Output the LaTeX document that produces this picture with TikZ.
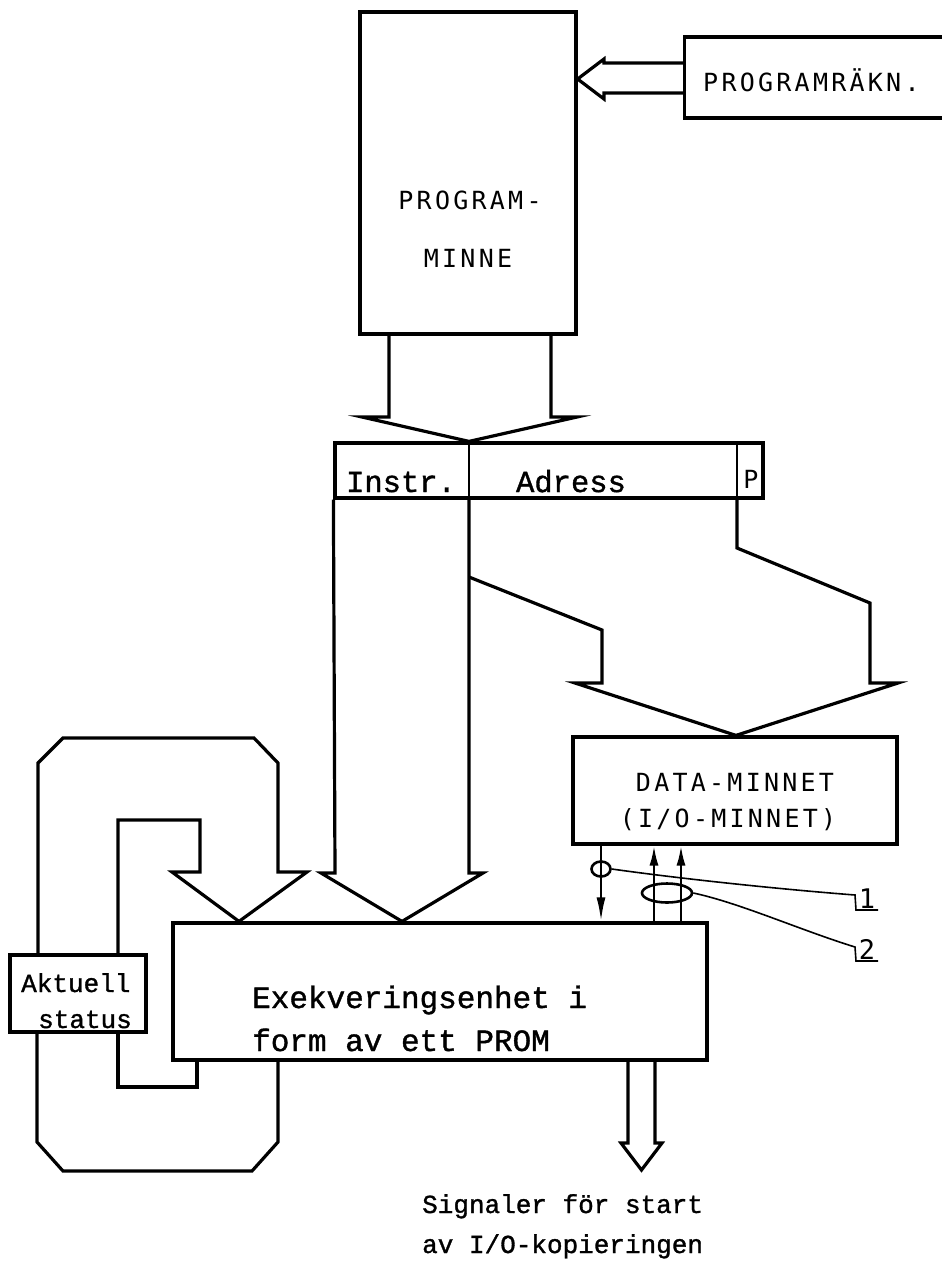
\documentclass[tikz,border=0pt]{standalone}
\usepackage{fontspec}
\setmainfont{Liberation Mono}
\newfontfamily\capsfont[LetterSpace=13]{DejaVu Sans Mono}
\newfontfamily\typefont[FakeBold=1.2]{Liberation Mono}
\usetikzlibrary{calc,arrows.meta,shapes.geometric}
\tikzset{
  box/.style={draw, line width=3.2pt, inner sep=0pt},
  bus/.style={draw, line width=3.2pt},
  sig/.style={line width=2.4pt},
  lead/.style={line width=1.6pt},
  capstxt/.style={font=\capsfont\fontsize{25}{30}\selectfont, inner sep=0pt},
  numtxt/.style={font=\capsfont\fontsize{27}{30}\selectfont, inner sep=0pt},
  typetxt/.style={font=\typefont\fontsize{30.5}{36}\selectfont, inner sep=0pt},
  extxt/.style={font=\typefont\fontsize{31}{36}\selectfont, inner sep=0pt},
  smalltxt/.style={font=\typefont\fontsize{26}{30}\selectfont, inner sep=0pt},
  ell/.style={draw, ellipse, line width=2.6pt, inner sep=0pt}
}
\begin{document}
\begin{tikzpicture}[x=1pt,y=-1pt]
\useasboundingbox (0,0) rectangle (942,1262);

% Program memory
\node[box, minimum width=216pt, minimum height=322pt] (pm) at (468,173) {};
\node[capstxt] (pm1) at (470,200) {PROGRAM-};
\node[capstxt] (pm2) at (468,258) {MINNE};

% Program counter
\node[box, anchor=west, minimum height=81pt, minimum width=280pt] (pr) at (683,77.5) {};
\node[capstxt, anchor=west] (prt) at (703,80) {PROGRAMRÄKN.};

% arrow counter -> memory
\draw[bus] (pr.west |- 0,63) -- (604,63) -- (604,59) -- (pm.east |- 0,79) -- (604,99) -- (604,93) -- (pr.west |- 0,93);

% Instruction register
\node[box, minimum width=428pt, minimum height=55pt] (ir) at (549,470.5) {};
\draw[line width=1.2pt] (469,0 |- ir.north) -- (469,0 |- ir.south);
\draw[line width=1.2pt] (737,0 |- ir.north) -- (737,0 |- ir.south);
\node[typetxt, anchor=base] (tinstr) at (401,492) {Instr.};
\node[typetxt, anchor=base] (tadr) at (571,492) {Adress};
\node[capstxt, anchor=base] (tp) at (751,488) {P};

% memory -> register
\draw[bus] (389,0 |- pm.south) -- (389,417) -- (362,417) -- (469,0 |- ir.north) -- (577,417) -- (551,417) -- (551,0 |- pm.south);

% Execution unit
\node[box, minimum width=534pt, minimum height=137pt] (ex) at (440,991.5) {};
\node[extxt, anchor=base west] (ex1) at (252,1008) {Exekveringsenhet i};
\node[extxt, anchor=base west] (ex2) at (252,1051) {form av ett PROM};

% Instr bus
\draw[bus] (ir.south west) -- (335,873) -- (321,873) -- (402,0 |- ex.north) -- (483,873) -- (469,873) -- (469,0 |- ir.south);

% Data memory
\node[box, minimum width=324pt, minimum height=107pt] (dm) at (735,790.5) {};
\node[capstxt] (dm1) at (735,782) {DATA-MINNET};
\node[capstxt] (dm2) at (728,820) {(I/O-MINNET)};

% Address / P bus
\draw[bus] (469,577) -- (602,630) -- (602,683) -- (575,683) -- (736,0 |- dm.north) -- (898,683) -- (870,683) -- (870,603) -- (737,548) -- (737,0 |- ir.south);

% signal lines
\draw[sig, -{Latex[length=24pt,width=9pt]}] (601,0 |- dm.south) -- (601,0 |- ex.north);
\draw[sig, -{Latex[length=20pt,width=9pt]}] (654,0 |- ex.north) -- (654,0 |- dm.south);
\draw[sig, -{Latex[length=20pt,width=9pt]}] (681,0 |- ex.north) -- (681,0 |- dm.south);

\node[ell, minimum width=19pt, minimum height=15pt] (e1) at (601,869) {};
\node[ell, minimum width=50pt, minimum height=19pt] (e2) at (667,893) {};

\draw[lead] (e1.east) .. controls (690,880) and (790,890) .. (855,895) -- (856,910) -- (878,910);
\node[numtxt, anchor=base] (n1) at (867,908) {1};
\draw[lead] (e2.east) .. controls (740,903) and (800,930) .. (855,947) -- (856,961) -- (878,961);
\node[numtxt, anchor=base] (n2) at (867,959) {2};

% Status box
\node[box, minimum width=136pt, minimum height=77pt] (st) at (78,993.5) {};
\node[smalltxt, anchor=base west] (st1) at (21,992) {Aktuell};
\node[smalltxt, anchor=base west] (st2) at (38,1028) {status};

% feedback loop top
\draw[bus] (38,0 |- st.north) -- (38,763) -- (63,738) -- (254,738) -- (278,763) -- (278,872) -- (307,872) -- (239,0 |- ex.north) -- (172,872) -- (200,872) -- (200,820) -- (118,820) -- (118,0 |- st.north);

% feedback loop bottom
\draw[bus] (197,0 |- ex.south) -- (197,1087) -- (118,1087) -- (118,0 |- st.south);
\draw[bus] (278,0 |- ex.south) -- (278,1142) -- (252,1171) -- (63,1171) -- (37,1142) -- (37,0 |- st.south);

% output
\draw[bus] (628,0 |- ex.south) -- (628,1143) -- (621,1143) -- (641.5,1170) -- (662,1143) -- (655,1143) -- (655,0 |- ex.south);
\node[smalltxt, anchor=base west] (o1) at (422,1213) {Signaler för start};
\node[smalltxt, anchor=base west] (o2) at (422,1253) {av I/O-kopieringen};
\end{tikzpicture}
\end{document}
